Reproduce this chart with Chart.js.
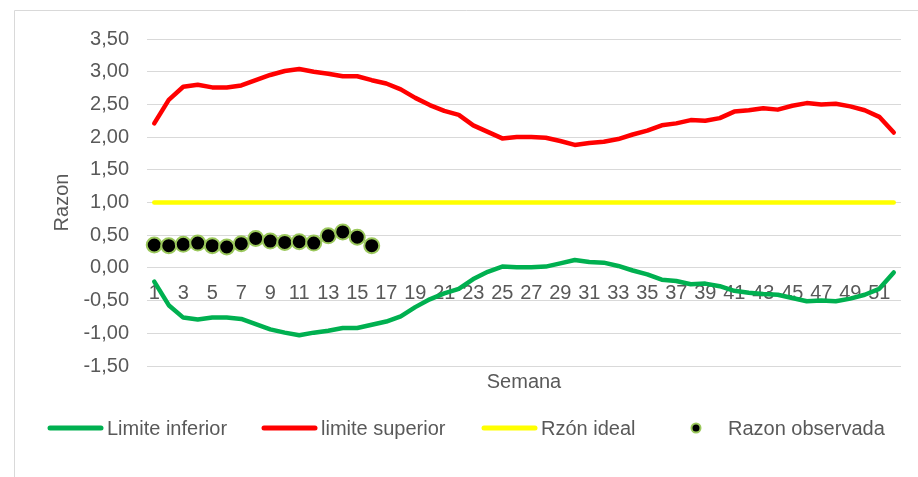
<!DOCTYPE html>
<html><head><meta charset="utf-8">
<script src="https://cdn.jsdelivr.net/npm/chart.js@4.4.1/dist/chart.umd.min.js"></script>
<style>html,body{margin:0;padding:0;background:#fff}#wrap{width:918px;height:477px;position:relative}</style>
</head><body><div id="wrap"><canvas id="c"></canvas></div>
<script>
const semanas = ['1','2','3','4','5','6','7','8','9','10','11','12','13','14','15','16','17','18','19','20','21','22','23','24','25','26','27','28','29','30','31','32','33','34','35','36','37','38','39','40','41','42','43','44','45','46','47','48','49','50','51','52'];
const limiteInferior = [-0.21,-0.57,-0.76,-0.79,-0.76,-0.76,-0.78,-0.86,-0.94,-0.99,
  -1.03,-0.99,-0.96,-0.92,-0.92,-0.87,-0.82,-0.74,-0.60,-0.48,
  -0.39,-0.32,-0.17,-0.06,0.02,0.01,0.01,0.02,0.07,0.12,
  0.09,0.08,0.03,-0.04,-0.10,-0.18,-0.20,-0.25,-0.24,-0.28,
  -0.35,-0.38,-0.40,-0.41,-0.46,-0.51,-0.50,-0.51,-0.47,-0.41,
  -0.32,-0.07];
const limiteSuperior = [2.21,2.57,2.77,2.80,2.76,2.76,2.79,2.87,2.95,3.01,
  3.04,3.00,2.97,2.93,2.93,2.87,2.82,2.73,2.60,2.49,
  2.40,2.34,2.18,2.08,1.98,2.00,2.00,1.99,1.94,1.88,
  1.91,1.93,1.97,2.04,2.10,2.18,2.21,2.26,2.25,2.29,
  2.39,2.41,2.44,2.42,2.48,2.52,2.50,2.51,2.47,2.41,
  2.31,2.07];
const razonIdeal = [1,1,1,1,1,1,1,1,1,1,1,1,1,1,1,1,1,1,1,1,1,1,1,1,1,1,1,1,1,1,1,1,1,1,1,1,1,1,1,1,1,1,1,1,1,1,1,1,1,1,1,1];
const razonObservada = [0.35,0.34,0.36,0.38,0.34,0.32,0.37,0.45,0.41,0.39,0.40,0.38,0.49,0.55,0.47,0.34];
const yTicks = [-1.5,-1,-0.5,0,0.5,1,1.5,2,2.5,3,3.5];

const TEXT = '#595959';
const GRID = '#D9D9D9';
const FONT = "'Liberation Sans', Arial, sans-serif";
Chart.defaults.font.family = FONT;
Chart.defaults.font.size = 20;
Chart.defaults.color = TEXT;

const fmt = v => Number(v).toFixed(2).replace('.', ',');

const framePlugin = {
  id: 'frame',
  beforeDraw(chart) {
    const ctx = chart.ctx;
    ctx.save();
    ctx.strokeStyle = GRID;
    ctx.lineWidth = 1;
    ctx.beginPath();
    ctx.moveTo(14.5, 477);
    ctx.lineTo(14.5, 10.5);
    ctx.lineTo(918, 10.5);
    ctx.stroke();
    ctx.restore();
  }
};

const legendPlugin = {
  id: 'customLegend',
  afterDraw(chart) {
    const ctx = chart.ctx;
    const ds = chart.data.datasets;
    const y = 428;
    const items = [
      {x: 48, tx: 107, d: ds[0], type: 'line'},
      {x: 262, tx: 321, d: ds[1], type: 'line'},
      {x: 482, tx: 541, d: ds[2], type: 'line'},
      {x: 669, tx: 728, d: ds[3], type: 'point'}
    ];
    ctx.save();
    ctx.font = '20px ' + FONT;
    ctx.textBaseline = 'middle';
    ctx.textAlign = 'left';
    items.forEach(it => {
      if (it.type === 'line') {
        ctx.strokeStyle = it.d.borderColor;
        ctx.lineWidth = 5;
        ctx.lineCap = 'round';
        ctx.beginPath();
        ctx.moveTo(it.x + 2, y);
        ctx.lineTo(it.x + 53, y);
        ctx.stroke();
      } else {
        ctx.fillStyle = it.d.pointBackgroundColor;
        ctx.strokeStyle = it.d.pointBorderColor;
        ctx.lineWidth = 2;
        ctx.beginPath();
        ctx.arc(it.x + 27, y, 4.5, 0, Math.PI * 2);
        ctx.fill();
        ctx.stroke();
      }
      ctx.fillStyle = TEXT;
      ctx.fillText(it.d.label, it.tx, y + 1);
    });
    ctx.restore();
  }
};

new Chart(document.getElementById('c'), {
  type: 'line',
  data: {
    labels: semanas,
    datasets: [
      {label: 'Limite inferior', data: limiteInferior, borderColor: '#00B050', backgroundColor: '#00B050', borderWidth: 4.5, pointRadius: 0, borderJoinStyle: 'round', borderCapStyle: 'round', order: 4},
      {label: 'limite superior', data: limiteSuperior, borderColor: '#FF0000', backgroundColor: '#FF0000', borderWidth: 4.5, pointRadius: 0, borderJoinStyle: 'round', borderCapStyle: 'round', order: 3},
      {label: 'Rzón ideal', data: razonIdeal, borderColor: '#FFFF00', backgroundColor: '#FFFF00', borderWidth: 4.5, pointRadius: 0, borderJoinStyle: 'round', borderCapStyle: 'round', order: 2},
      {label: 'Razon observada', data: razonObservada, showLine: false, borderColor: '#000000', backgroundColor: '#000000', pointBackgroundColor: '#000000', pointBorderColor: '#9BC85C', pointBorderWidth: 2, pointRadius: 7.5, pointHoverRadius: 7.5, order: 1}
    ]
  },
  options: {
    responsive: true,
    maintainAspectRatio: false,
    animation: false,
    events: [],
    layout: {padding: {left: 50, right: 17, top: 39, bottom: 79}},
    plugins: {legend: {display: false}, tooltip: {enabled: false}},
    scales: {
      x: {
        type: 'category',
        position: 'bottom',
        offset: true,
        grid: {display: false, drawTicks: false},
        border: {display: false},
        ticks: {display: false},
        title: {display: true, text: 'Semana', color: TEXT, font: {size: 20}, padding: {top: 4, bottom: 4}}
      },
      xLab: {
        type: 'category',
        labels: semanas,
        position: {y: 0},
        offset: true,
        grid: {display: false, drawTicks: false},
        border: {display: false},
        ticks: {autoSkip: false, maxRotation: 0, minRotation: 0, padding: 14, color: TEXT, font: {size: 20},
          callback: function(v, i) { return i % 2 === 0 ? semanas[i] : ''; }}
      },
      y: {
        min: -1.5, max: 3.5,
        afterBuildTicks: s => { s.ticks = yTicks.map(v => ({value: v})); },
        afterFit: s => { s.width = 97; },
        grid: {color: GRID, lineWidth: 1, drawTicks: false},
        border: {display: false},
        ticks: {padding: 18, color: TEXT, font: {size: 20}, callback: v => fmt(v)},
        title: {display: true, text: 'Razon', color: TEXT, font: {size: 20}, padding: {top: 0, bottom: 0}}
      }
    }
  },
  plugins: [framePlugin, legendPlugin]
});
</script>
</body></html>
